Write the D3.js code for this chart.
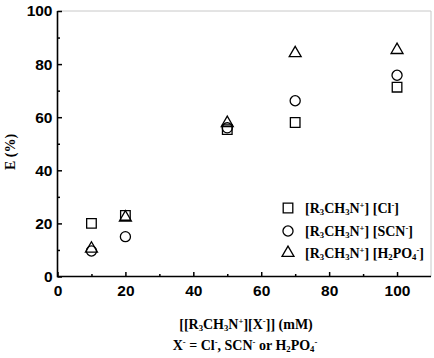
<!DOCTYPE html>
<meta charset="utf-8">
<style>
    body { margin: 0; background: #fff; }
    svg text { fill: #000; }
</style>
<svg id="canvas" width="434" height="358"></svg>
<script src="https://d3js.org/d3.v7.min.js"></script>
<script>

    // concentration (mM)
    var conc = [10, 20, 50, 70, 100];
    // extraction E (%)
    var eCl    = [20.0, 23.0, 55.3, 58.0, 71.3];
    var eSCN   = [9.6, 15.0, 56.0, 66.2, 75.8];
    var eH2PO4 = [10.5, 22.2, 57.8, 84.1, 85.3];

    var xMajor = [0, 20, 40, 60, 80, 100];
    var xMinor = [10, 30, 50, 70, 90];
    var yMajor = [0, 20, 40, 60, 80, 100];
    var yMinor = [10, 30, 50, 70, 90];

    var svg = d3.select("svg"),
        pLeft = 57.5, pRight = 431, pTop = 11, pBottom = 276.5;

    var x = d3.scaleLinear().domain([0, 110]).range([pLeft, pRight]);
    var y = d3.scaleLinear().domain([0, 100]).range([pBottom, pTop]);

    // light frame top / right
    svg.append("path")
        .attr("d", "M" + pLeft + "," + pTop + "H" + pRight + "V" + pBottom)
        .attr("fill", "none")
        .attr("stroke", "#c8c8c8")
        .attr("stroke-width", 1);

    var tickFont = function(g) {
        g.selectAll("text")
            .attr("font-family", "Liberation Sans, Arial, sans-serif")
            .attr("font-weight", "bold")
            .attr("font-size", 15.5)
            .attr("fill", "#000");
        g.selectAll("line").attr("stroke", "#000").attr("stroke-width", 1.5);
        g.select(".domain").remove();
    };

    svg.append("g")
        .attr("transform", "translate(0," + pBottom + ")")
        .call(d3.axisBottom(x).tickValues(xMinor).tickSizeInner(-2.5).tickSizeOuter(0).tickFormat(""))
        .call(tickFont);
    svg.append("g")
        .attr("transform", "translate(0," + pBottom + ")")
        .call(d3.axisBottom(x).tickValues(xMajor).tickSizeInner(-4.5).tickSizeOuter(0).tickPadding(8))
        .call(tickFont);

    svg.append("g")
        .attr("transform", "translate(" + pLeft + ",0)")
        .call(d3.axisLeft(y).tickValues(yMinor).tickSizeInner(-2.5).tickSizeOuter(0).tickFormat(""))
        .call(tickFont);
    svg.append("g")
        .attr("transform", "translate(" + pLeft + ",0)")
        .call(d3.axisLeft(y).tickValues(yMajor).tickSizeInner(-4.5).tickSizeOuter(0).tickPadding(5))
        .call(tickFont);

    // main axis lines
    svg.append("path")
        .attr("d", "M" + pLeft + "," + pTop + "V" + pBottom + "H" + pRight)
        .attr("fill", "none")
        .attr("stroke", "#000")
        .attr("stroke-width", 1.6);

    var series = [
        {name: "Cl", vals: eCl, sym: d3.symbolSquare, size: 92},
        {name: "SCN", vals: eSCN, sym: d3.symbolCircle, size: 80},
        {name: "H2PO4", vals: eH2PO4, sym: d3.symbolTriangle, size: 62}
    ];

    series.forEach(function(s) {
        svg.append("g").selectAll("path")
            .data(s.vals)
            .enter().append("path")
            .attr("d", d3.symbol().type(s.sym).size(s.size))
            .attr("transform", function(d, i) { return "translate(" + x(conc[i]) + "," + y(d) + ")"; })
            .attr("fill", "none")
            .attr("stroke", "#000")
            .attr("stroke-width", 1.3);
    });

    // rich text helper: parts [text, "n" | "sub" | "sup"]
    function rich(sel, parts, size) {
        parts.forEach(function(p) {
            var t = sel.append("tspan").text(p[0]);
            if (p[1] === "sub") t.attr("font-size", size * 0.62).attr("baseline-shift", "-25%");
            else if (p[1] === "sup") t.attr("font-size", size * 0.62).attr("baseline-shift", "55%");
        });
        return sel;
    }

    var serif = "Liberation Serif, Times New Roman, serif";
    var fs = 14;
    var cation = [["[R", "n"], ["3", "sub"], ["CH", "n"], ["3", "sub"], ["N", "n"], ["+", "sup"], ["] ", "n"]];
    var legendParts = [
        cation.concat([["[Cl", "n"], ["-", "sup"], ["]", "n"]]),
        cation.concat([["[SCN", "n"], ["-", "sup"], ["]", "n"]]),
        cation.concat([["[H", "n"], ["2", "sub"], ["PO", "n"], ["4", "sub"], ["-", "sup"], ["]", "n"]])
    ];
    var legendY = [208, 231, 253];

    series.forEach(function(s, i) {
        svg.append("path")
            .attr("d", d3.symbol().type(s.sym).size(s.size))
            .attr("transform", "translate(288," + legendY[i] + ")")
            .attr("fill", "none")
            .attr("stroke", "#000")
            .attr("stroke-width", 1.3);
        var t = svg.append("text")
            .attr("x", 305).attr("y", legendY[i] + 5)
            .attr("font-family", serif).attr("font-weight", "bold").attr("font-size", fs);
        rich(t, legendParts[i], fs);
    });

    // axis titles
    svg.append("text")
        .attr("transform", "translate(15,152) rotate(-90)")
        .attr("text-anchor", "middle")
        .attr("font-family", serif).attr("font-weight", "bold").attr("font-size", fs)
        .text("E (%)");

    var xt = svg.append("text")
        .attr("x", 246).attr("y", 329)
        .attr("text-anchor", "middle")
        .attr("font-family", serif).attr("font-weight", "bold").attr("font-size", fs);
    rich(xt, [["[[R", "n"], ["3", "sub"], ["CH", "n"], ["3", "sub"], ["N", "n"], ["+", "sup"], ["][X", "n"], ["-", "sup"], ["]] (mM)", "n"]], fs);

    var xt2 = svg.append("text")
        .attr("x", 245).attr("y", 350)
        .attr("text-anchor", "middle")
        .attr("font-family", serif).attr("font-weight", "bold").attr("font-size", fs);
    rich(xt2, [["X", "n"], ["-", "sup"], [" = Cl", "n"], ["-", "sup"], [", SCN", "n"], ["-", "sup"], [" or H", "n"], ["2", "sub"], ["PO", "n"], ["4", "sub"], ["-", "sup"]], fs);

</script>
